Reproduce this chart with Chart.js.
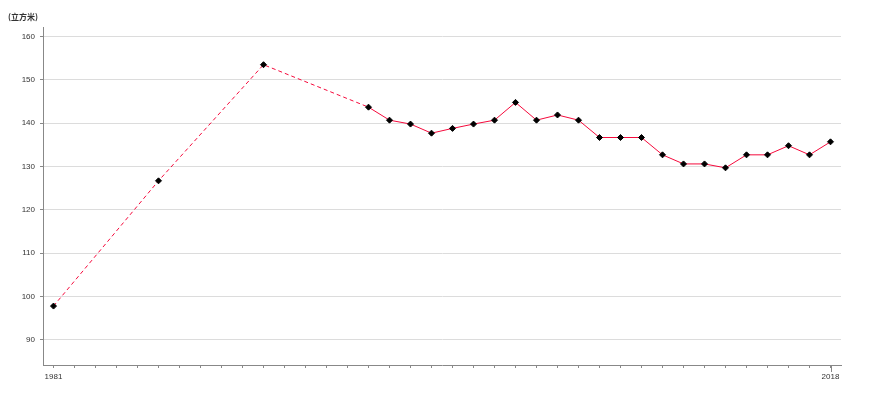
<!DOCTYPE html>
<html>
<head>
<meta charset="utf-8">
<script src="https://cdn.jsdelivr.net/npm/chart.js@4/dist/chart.umd.min.js"></script>
<style>
html,body{margin:0;padding:0;background:#fff;}
#wrap{width:870px;height:400px;}
</style>
</head>
<body>
<div id="wrap"><canvas id="c" width="870" height="400"></canvas></div>
<script>
const unitLabel = '(立方米)';
const years = [1981, 1986, 1991, 1996, 1997, 1998, 1999, 2000, 2001, 2002, 2003, 2004, 2005, 2006, 2007, 2008, 2009, 2010, 2011, 2012, 2013, 2014, 2015, 2016, 2017, 2018];
const values = [97.8, 126.7, 153.5, 143.7, 140.7, 139.8, 137.7, 138.8, 139.8, 140.7, 144.8, 140.7, 141.9, 140.7, 136.7, 136.7, 136.7, 132.7, 130.6, 130.6, 129.7, 132.7, 132.7, 134.8, 132.7, 135.7];
const yTicks = [90, 100, 110, 120, 130, 140, 150, 160];
const xLabelYears = [1981, 2018];
const xFirst = 1981, xLast = 2018;

const tickFont = {family: '"Liberation Sans", Arial, sans-serif', size: 8};

const majorTick = {
  id: 'majorTick',
  afterDraw(chart) {
    const xs = chart.scales.x;
    const ctx = chart.ctx;
    ctx.save();
    ctx.strokeStyle = '#888';
    ctx.lineWidth = 1;
    const px = Math.round(xs.getPixelForValue(xLast)) + 0.5;
    ctx.beginPath();
    ctx.moveTo(px, chart.chartArea.bottom);
    ctx.lineTo(px, chart.chartArea.bottom + 7);
    ctx.stroke();
    ctx.restore();
  }
};

new Chart(document.getElementById('c'), {
  type: 'line',
  data: {
    datasets: [{
      data: years.map((y, i) => ({x: y, y: values[i]})),
      borderColor: 'rgb(245,10,60)',
      borderWidth: 1,
      tension: 0,
      fill: false,
      pointStyle: 'rectRot',
      pointRadius: 3,
      pointBackgroundColor: '#000',
      pointBorderColor: '#000',
      pointBorderWidth: 1,
      segment: {
        borderDash: ctx => (ctx.p1.parsed.x - ctx.p0.parsed.x > 1 ? [4, 3] : undefined)
      }
    }]
  },
  options: {
    responsive: false,
    animation: false,
    layout: {padding: {left: 8, right: 29, top: 0, bottom: 0}},
    plugins: {
      legend: {display: false},
      tooltip: {enabled: false},
      title: {
        display: true,
        text: unitLabel,
        align: 'start',
        color: '#333',
        font: {family: '"Noto Sans CJK SC", sans-serif', size: 8, lineHeight: 1.25},
        padding: {top: 12, bottom: 5}
      }
    },
    scales: {
      x: {
        type: 'linear',
        min: xFirst - 0.5,
        max: xLast + 0.5,
        afterBuildTicks: axis => {
          const t = [];
          for (let y = xFirst; y <= xLast; y++) t.push({value: y});
          axis.ticks = t;
        },
        afterFit: s => { s.height = 35; },
        border: {display: true, color: '#888', width: 1},
        grid: {drawOnChartArea: false, drawTicks: true, tickLength: 3, color: '#888'},
        ticks: {
          autoSkip: false,
          maxRotation: 0,
          padding: 4,
          color: '#333',
          font: tickFont,
          callback: v => (xLabelYears.includes(v) ? String(v) : '')
        }
      },
      y: {
        min: 84.2,
        max: 162.2,
        afterBuildTicks: axis => { axis.ticks = yTicks.map(v => ({value: v})); },
        afterFit: s => { s.width = 35; },
        border: {display: true, color: '#888', width: 1},
        grid: {color: '#dcdcdc', drawTicks: true, tickLength: 3, tickColor: '#888'},
        ticks: {
          padding: 5,
          color: '#333',
          font: tickFont
        }
      }
    }
  },
  plugins: [majorTick]
});
</script>
</body>
</html>
